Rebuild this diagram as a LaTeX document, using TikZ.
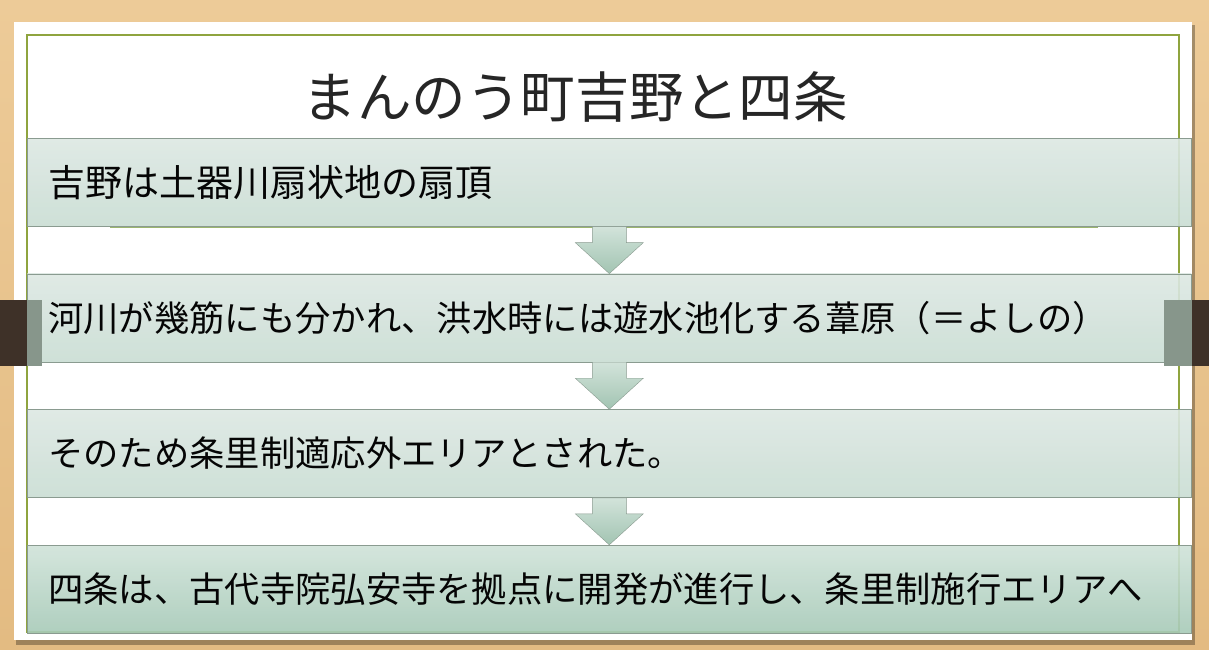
\documentclass[tikz,border=0pt]{standalone}
\usepackage{fontspec}
\setmainfont{Noto Sans CJK JP}
\usepackage{tikz}
\usetikzlibrary{positioning,calc}
\definecolor{cWood}{HTML}{E3BB82}
\definecolor{cWoodLight}{HTML}{EDCB98}
\definecolor{cFrame}{HTML}{8FA43F}
\definecolor{cBoxTop}{HTML}{DDE8E3}
\definecolor{cBoxBot}{HTML}{C9DDD3}
\definecolor{cLastTop}{HTML}{D0E3D9}
\definecolor{cLastBot}{HTML}{A7CAB8}
\definecolor{cEdge}{HTML}{8A9B90}
\definecolor{cArrTop}{HTML}{D2E3DA}
\definecolor{cArrBot}{HTML}{A2C4B2}
\definecolor{cClip}{HTML}{3E3128}
\definecolor{cClipGrey}{HTML}{87968B}
\definecolor{cRule}{HTML}{9CB56F}
\definecolor{cInk}{HTML}{050505}
\tikzset{
  stepbox/.style={draw=cEdge, line width=0.6pt, top color=cBoxTop, bottom color=cBoxBot,
                  fill opacity=0.9, text opacity=1, minimum width=1164pt, minimum height=88pt,
                  text width=1122pt, inner xsep=21pt, inner ysep=0pt, align=left, text=cInk,
                  font=\fontsize{35.3}{40}\selectfont},
  lastbox/.style={stepbox, top color=cLastTop, bottom color=cLastBot},
  downarr/.style={draw=cEdge, line width=0.4pt, top color=cArrTop, bottom color=cArrBot},
  clip/.style={fill=#1, draw=none},
}

\begin{document}
\begin{tikzpicture}[x=1pt, y=-1pt, node distance=47pt]
  \useasboundingbox (0,0) rectangle (1209,649);
  % wood and paper
  \fill[top color=cWoodLight, bottom color=cWood] (0,0) rectangle (1209,649);
  \fill[black, opacity=0.3] (16,25) rectangle (1195,645);
  \fill[white] (14,22) rectangle (1192,640);
  \draw[cFrame, line width=1.5pt] (27,35) rectangle (1179,632);
  % title
  \node[font=\fontsize{54.5}{60}\selectfont, text=black!85] (title) at (575,97) {まんのう町吉野と四条};
  % steps
  \node[stepbox, anchor=north west, font=\fontsize{37}{42}\selectfont] (b1) at (27,138) {吉野は土器川扇状地の扇頂};
  \node[stepbox, below=of b1] (b2) {河川が幾筋にも分かれ、洪水時には遊水池化する葦原（＝よしの）};
  \node[stepbox, below=of b2] (b3) {そのため条里制適応外エリアとされた。};
  \node[lastbox, below=of b3] (b4) {四条は、古代寺院弘安寺を拠点に開発が進行し、条里制施行エリアへ};
  \draw[cRule, line width=1.2pt] ($(b1.south west)+(83,1)$) -- ($(b1.south east)+(-94,1)$);
  % arrows between steps
  \foreach \a/\b in {b1/b2,b2/b3,b3/b4}
    \path[downarr] ($(\a.south)+(-17,0)$) -- ($(\a.south)+(17,0)$) -- ($(\b.north)+(17,-31)$)
      -- ($(\b.north)+(34,-31)$) -- (\b.north) -- ($(\b.north)+(-34,-31)$) -- ($(\b.north)+(-17,-31)$) -- cycle;
  % binder clips
  \fill[clip=cClip] (0,300) rectangle (27,366);
  \fill[clip=cClipGrey] (27,300) rectangle (42,366);
  \fill[clip=cClipGrey] (1164,300) rectangle (1192,366);
  \fill[clip=cClip] (1192,300) rectangle (1209,366);
\end{tikzpicture}
\end{document}
